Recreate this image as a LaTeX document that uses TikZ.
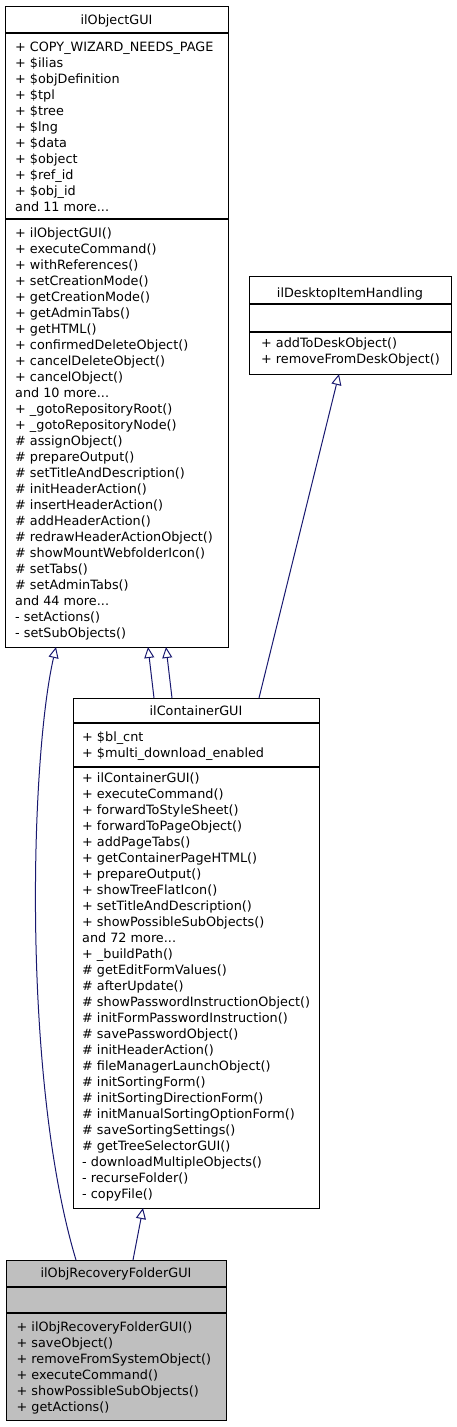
\documentclass[tikz,border=0pt]{standalone}
\usepackage{fontspec}
\setmainfont{DejaVu Sans}
\usetikzlibrary{arrows.meta}
\definecolor{edgeblue}{HTML}{191970}
\definecolor{recgray}{HTML}{BFBFBF}
\tikzset{
  cls/.style={draw=black, line width=0.9pt, inner sep=0pt, outer sep=0pt, anchor=north west},
  sepline/.style={draw=black, line width=1.6pt},
  title/.style={anchor=base, inner sep=0pt, font={\fontsize{12.8}{16}\selectfont}},
  members/.style={anchor=base west, inner sep=0pt, font={\fontsize{12.8}{16}\selectfont}},
  inh/.style={draw=edgeblue, line width=1pt, -{Triangle[open, length=11pt, width=10pt]}}
}
\newcommand{\mlist}[1]{\begin{tabular}[t]{@{}l@{}}#1\end{tabular}}
\begin{document}
\begin{tikzpicture}[x=1pt, y=1pt]
\useasboundingbox (0,0) rectangle (456,-1427);

% ilObjectGUI: x 5-228, y 6-647
\node[cls, minimum width=223pt, minimum height=641pt] (obj) at (5,-6) {};
\draw[sepline] ([yshift=-27pt]obj.north west) -- ([yshift=-27pt]obj.north east);
\draw[sepline] ([yshift=-213pt]obj.north west) -- ([yshift=-213pt]obj.north east);
\node[title] (objt) at (116.5,-24.5) {ilObjectGUI};
\node[members] (obja) at (15,-51) {\mlist{%
+ COPY\_WIZARD\_NEEDS\_PAGE\\
+ \$ilias\\
+ \$objDefinition\\
+ \$tpl\\
+ \$tree\\
+ \$lng\\
+ \$data\\
+ \$object\\
+ \$ref\_id\\
+ \$obj\_id\\
and 11 more...}};
\node[members] (objm) at (15,-237.6) {\mlist{%
+ ilObjectGUI()\\
+ executeCommand()\\
+ withReferences()\\
+ setCreationMode()\\
+ getCreationMode()\\
+ getAdminTabs()\\
+ getHTML()\\
+ confirmedDeleteObject()\\
+ cancelDeleteObject()\\
+ cancelObject()\\
and 10 more...\\
+ \_gotoRepositoryRoot()\\
+ \_gotoRepositoryNode()\\
\# assignObject()\\
\# prepareOutput()\\
\# setTitleAndDescription()\\
\# initHeaderAction()\\
\# insertHeaderAction()\\
\# addHeaderAction()\\
\# redrawHeaderActionObject()\\
\# showMountWebfolderIcon()\\
\# setTabs()\\
\# setAdminTabs()\\
and 44 more...\\
- setActions()\\
- setSubObjects()}};

% ilDesktopItemHandling: x 249-451, y 276-374
\node[cls, minimum width=202pt, minimum height=98pt] (desk) at (249,-276) {};
\draw[sepline] ([yshift=-28pt]desk.north west) -- ([yshift=-28pt]desk.north east);
\draw[sepline] ([yshift=-56pt]desk.north west) -- ([yshift=-56pt]desk.north east);
\node[title] (deskt) at (350,-297) {ilDesktopItemHandling};
\node[members] (deskm) at (261,-347.6) {\mlist{%
+ addToDeskObject()\\
+ removeFromDeskObject()}};

% ilContainerGUI: x 73-319, y 698-1208
\node[cls, minimum width=246pt, minimum height=510pt] (cont) at (73,-698) {};
\draw[sepline] ([yshift=-25pt]cont.north west) -- ([yshift=-25pt]cont.north east);
\draw[sepline] ([yshift=-69pt]cont.north west) -- ([yshift=-69pt]cont.north east);
\node[title] (contt) at (196,-715.5) {ilContainerGUI};
\node[members] (conta) at (82,-741) {\mlist{%
+ \$bl\_cnt\\
+ \$multi\_download\_enabled}};
\node[members] (contm) at (82,-782.6) {\mlist{%
+ ilContainerGUI()\\
+ executeCommand()\\
+ forwardToStyleSheet()\\
+ forwardToPageObject()\\
+ addPageTabs()\\
+ getContainerPageHTML()\\
+ prepareOutput()\\
+ showTreeFlatIcon()\\
+ setTitleAndDescription()\\
+ showPossibleSubObjects()\\
and 72 more...\\
+ \_buildPath()\\
\# getEditFormValues()\\
\# afterUpdate()\\
\# showPasswordInstructionObject()\\
\# initFormPasswordInstruction()\\
\# savePasswordObject()\\
\# initHeaderAction()\\
\# fileManagerLaunchObject()\\
\# initSortingForm()\\
\# initSortingDirectionForm()\\
\# initManualSortingOptionForm()\\
\# saveSortingSettings()\\
\# getTreeSelectorGUI()\\
- downloadMultipleObjects()\\
- recurseFolder()\\
- copyFile()}};

% ilObjRecoveryFolderGUI: x 6-226, y 1260-1420
\node[cls, fill=recgray, minimum width=220pt, minimum height=160pt] (rec) at (6,-1260) {};
\draw[sepline] ([yshift=-27pt]rec.north west) -- ([yshift=-27pt]rec.north east);
\draw[sepline] ([yshift=-53pt]rec.north west) -- ([yshift=-53pt]rec.north east);
\node[title] (rect) at (116,-1277) {ilObjRecoveryFolderGUI};
\node[members] (recm) at (16.5,-1331) {\mlist{%
+ ilObjRecoveryFolderGUI()\\
+ saveObject()\\
+ removeFromSystemObject()\\
+ executeCommand()\\
+ showPossibleSubObjects()\\
+ getActions()}};

% inheritance edges
\draw[inh] ([xshift=70pt]rec.north west) .. controls (22,-1080) and (30,-760) .. ([xshift=51pt]obj.south west);
\draw[inh] ([xshift=81pt]cont.north west) -- ([xshift=143pt]obj.south west);
\draw[inh] ([xshift=99pt]cont.north west) -- ([xshift=161pt]obj.south west);
\draw[inh] ([xshift=186pt]cont.north west) -- ([xshift=90pt]desk.south west);
\draw[inh] ([xshift=127pt]rec.north west) -- ([xshift=70pt]cont.south west);
\end{tikzpicture}
\end{document}
